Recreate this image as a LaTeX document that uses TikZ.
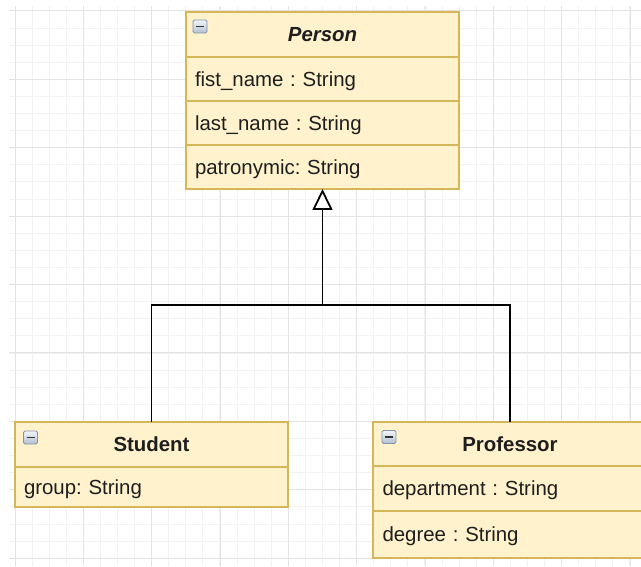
\documentclass[tikz,border=0pt]{standalone}
\usepackage{fontspec}
\setmainfont{Liberation Sans}
\usetikzlibrary{arrows.meta}

\definecolor{umlfill}{HTML}{FFF2CC}
\definecolor{umlline}{HTML}{D6B656}
\definecolor{umltext}{HTML}{1E1E1E}
\definecolor{gridminor}{HTML}{F2F2F2}
\definecolor{gridmajor}{HTML}{E3E3E3}
\definecolor{iconline}{HTML}{8393AA}
\definecolor{icontop}{HTML}{F2F5F9}
\definecolor{iconbottom}{HTML}{B3C1D3}

\tikzset{
  umlbox/.style={draw=umlline, fill=umlfill, line width=1.6pt, inner sep=0pt, outer sep=0pt,
    text=umltext, font=\fontsize{20.4}{24}\selectfont\frenchspacing},
  classhead/.style={umlbox, align=center, font=\fontsize{20.4}{24}\selectfont\bfseries},
  attr/.style={umlbox, align=left, inner xsep=9pt, anchor=north, text depth=0pt},
  conn/.style={draw=black, line width=1.8pt},
  collapse/.style={rectangle, minimum width=14pt, minimum height=13pt, inner sep=0pt,
    draw=iconline, line width=0.8pt, rounded corners=1.5pt,
    top color=icontop, bottom color=iconbottom,
    path picture={\draw[line width=1.7pt, draw=black!80]
      ([xshift=3pt]path picture bounding box.west) --
      ([xshift=-3pt]path picture bounding box.east);}},
  minorline/.style={draw=gridminor, line width=1pt},
  majorline/.style={draw=gridmajor, line width=1pt}
}

\begin{document}
\frenchspacing
\begin{tikzpicture}[x=1pt, y=-1pt]
\useasboundingbox (0,0) rectangle (641,567);

% background grid
\begin{scope}
  \clip (9,6) rectangle (641,565);
  \foreach \i in {-1,...,38} {
    \draw[minorline] ({15+17.083*\i},6) -- ++(0,560);
  }
  \foreach \j in {-1,...,33} {
    \draw[minorline] (9,{11+17.1*\j}) -- ++(640,0);
  }
  \foreach \i in {0,...,9} {
    \draw[majorline] ({15+68.333*\i},6) -- ++(0,560);
  }
  \foreach \j in {0,...,8} {
    \draw[majorline] (9,{11+68.4*\j}) -- ++(640,0);
  }
\end{scope}

% class Person
\node[classhead, minimum width=273pt, minimum height=45pt, anchor=north west]
  (person) at (186,12) {\itshape Person};
\node[attr, text width=255pt, minimum height=44pt] (pattr1) at (person.south) {fist\_name : String};
\node[attr, text width=255pt, minimum height=44pt] (pattr2) at (pattr1.south) {last\_name : String};
\node[attr, text width=255pt, minimum height=44pt] (pattr3) at (pattr2.south) {patronymic: String};
\node[collapse] (picon) at ([xshift=14pt,yshift=-14.5pt]person.north west) {};

% class Student
\node[classhead, minimum width=273pt, minimum height=45pt, anchor=north west]
  (student) at (15,422) {Student};
\node[attr, text width=255pt, minimum height=40pt] (sattr1) at (student.south) {group: String};
\node[collapse] (sicon) at ([xshift=15.5pt,yshift=-15.5pt]student.north west) {};

% class Professor
\node[classhead, minimum width=274pt, minimum height=44pt, anchor=north west]
  (professor) at (373,422) {Professor};
\node[attr, text width=255pt, inner xsep=9.5pt, minimum height=45pt] (fattr1) at (professor.south) {department : String};
\node[attr, text width=255pt, inner xsep=9.5pt, minimum height=47pt] (fattr2) at (fattr1.south) {degree : String};
\node[collapse] (ficon) at ([xshift=16pt,yshift=-15pt]professor.north west) {};

% generalization connectors
\coordinate (join) at ([yshift=-116pt]pattr3.south);
\draw[conn, -{Triangle[length=21pt, width=20pt, fill=white]}] (join) -- (pattr3.south);
\draw[conn] (student.north) |- (join) -| (professor.north);
\end{tikzpicture}
\end{document}
